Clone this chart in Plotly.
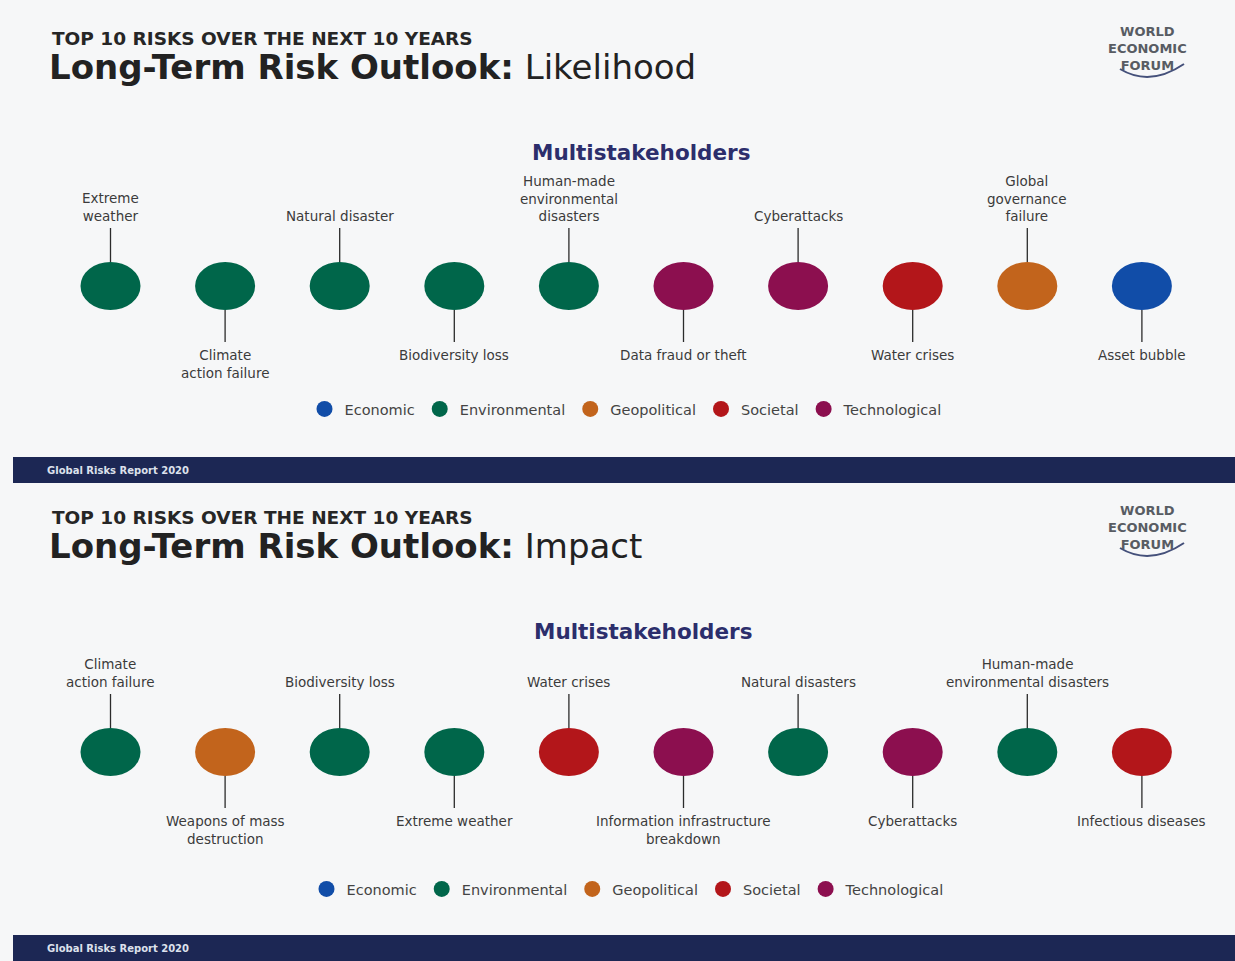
import plotly.graph_objects as go

# ---------------- data ----------------
categories = ["Economic", "Environmental", "Geopolitical", "Societal", "Technological"]
category_colors = ["#114da8", "#00664a", "#c2641c", "#b3161a", "#8c0f4f"]

ranks = [1, 2, 3, 4, 5, 6, 7, 8, 9, 10]

likelihood_risks = ["Extreme<br>weather", "Climate<br>action failure", "Natural disaster",
                    "Biodiversity loss", "Human-made<br>environmental<br>disasters",
                    "Data fraud or theft", "Cyberattacks", "Water crises",
                    "Global<br>governance<br>failure", "Asset bubble"]
likelihood_categories = ["Environmental", "Environmental", "Environmental", "Environmental",
                         "Environmental", "Technological", "Technological", "Societal",
                         "Geopolitical", "Economic"]

impact_risks = ["Climate<br>action failure", "Weapons of mass<br>destruction", "Biodiversity loss",
                "Extreme weather", "Water crises", "Information infrastructure<br>breakdown",
                "Natural disasters", "Cyberattacks", "Human-made<br>environmental disasters",
                "Infectious diseases"]
impact_categories = ["Environmental", "Geopolitical", "Environmental", "Environmental",
                     "Societal", "Technological", "Environmental", "Technological",
                     "Environmental", "Societal"]

panels = [
    dict(kind="Likelihood", risks=likelihood_risks, cats=likelihood_categories,
         top=0, legend="legend"),
    dict(kind="Impact", risks=impact_risks, cats=impact_categories,
         top=479, legend="legend2"),
]

# ---------------- styling / layout constants ----------------
W, H = 1235, 961
FONT = "DejaVu Sans"
TXT = "#3b3b3b"
color_of = dict(zip(categories, category_colors))
px_per_rank = 114.6
first_px = 110.5
x_range = [1 - first_px / px_per_rank, 1 + (W - first_px) / px_per_rank]
half_w = 30 / px_per_rank   # ellipse half width in rank units

fig = go.Figure()
shapes = []
annotations = []

for p in panels:
    t = p["top"]
    row_y = 286 if t == 0 else 752
    # dots (data traces, drawn under ellipse shapes)
    for cat in categories:
        xs = [r for r, c in zip(ranks, p["cats"]) if c == cat]
        names = [n.replace("<br>", " ") for n, c in zip(p["risks"], p["cats"]) if c == cat]
        fig.add_trace(go.Scatter(
            x=xs if xs else [None], y=[row_y] * len(xs) if xs else [None],
            mode="markers", name=cat,
            marker=dict(color=color_of[cat], size=16),
            text=names if names else [""],
            hovertemplate="%{text}<extra>" + cat + "</extra>",
            legend=p["legend"], xaxis="x", yaxis="y"))
    for r, name, cat in zip(ranks, p["risks"], p["cats"]):
        col = color_of[cat]
        shapes.append(dict(type="circle", xref="x", yref="y", layer="above",
                           x0=r - half_w, x1=r + half_w, y0=row_y - 24, y1=row_y + 24,
                           fillcolor=col, line=dict(width=0)))
        above = (r % 2 == 1)
        if above:
            shapes.append(dict(type="line", xref="x", yref="y", x0=r, x1=r,
                               y0=row_y - 58, y1=row_y - 24,
                               line=dict(color="#2b2b2b", width=1.3)))
            annotations.append(dict(x=r, y=row_y - 60, xref="x", yref="y", text=name,
                                    showarrow=False, xanchor="center", yanchor="bottom",
                                    font=dict(family=FONT, size=13.5, color=TXT)))
        else:
            shapes.append(dict(type="line", xref="x", yref="y", x0=r, x1=r,
                               y0=row_y + 24, y1=row_y + 56,
                               line=dict(color="#2b2b2b", width=1.3)))
            annotations.append(dict(x=r, y=row_y + 59, xref="x", yref="y", text=name,
                                    showarrow=False, xanchor="center", yanchor="top",
                                    font=dict(family=FONT, size=13.5, color=TXT)))

    # headings
    annotations.append(dict(x=50, y=38 + t, xref="x2", yref="y", xanchor="left", yanchor="middle",
                            text="<b>TOP 10 RISKS OVER THE NEXT 10 YEARS</b>", showarrow=False,
                            font=dict(family=FONT, size=18.5, color="#262626")))
    annotations.append(dict(x=47, y=67 + t, xref="x2", yref="y", xanchor="left", yanchor="middle",
                            text="<b>Long-Term Risk Outlook:</b> " + p["kind"], showarrow=False,
                            font=dict(family=FONT, size=34, color="#222222")))
    annotations.append(dict(x=641 + (2 if t else 0), y=152 + t, xref="x2", yref="y",
                            xanchor="center", yanchor="middle",
                            text="<b>Multistakeholders</b>", showarrow=False,
                            font=dict(family=FONT, size=21.5, color="#2c2e6c")))
    # logo
    annotations.append(dict(x=1147, y=48 + t, xref="x2", yref="y", xanchor="center",
                            yanchor="middle", text="<b>WORLD<br>ECONOMIC<br>FORUM</b>",
                            showarrow=False,
                            font=dict(family=FONT, size=13, color="#585c63")))
    shapes.append(dict(type="path", xref="x2", yref="y",
                       path=f"M 1120 {69 + t} Q 1150 {87 + t} 1184 {64 + t}",
                       line=dict(color="#44507a", width=2)))
    # footer
    bar_top = 457 if t == 0 else 935
    shapes.append(dict(type="rect", xref="x2", yref="y", x0=13, x1=W, y0=bar_top, y1=bar_top + 26,
                       fillcolor="#1c2754", line=dict(width=0), layer="below"))
    annotations.append(dict(x=45, y=bar_top + 13, xref="x2", yref="y", xanchor="left",
                            yanchor="middle", text="<b>Global Risks Report 2020</b>", showarrow=False,
                            font=dict(family=FONT, size=10, color="#dde1ec")))

legend_common = dict(orientation="h", xanchor="center", yanchor="middle",
                     bgcolor="rgba(0,0,0,0)", itemsizing="trace", traceorder="normal",
                     font=dict(family=FONT, size=14.5, color="#444444"), itemclick=False)

fig.update_layout(
    width=W, height=H, margin=dict(l=0, r=0, t=0, b=0),
    paper_bgcolor="#f6f7f8", plot_bgcolor="#f6f7f8",
    showlegend=True,
    legend=dict(x=626 / W, y=1 - 409 / H, **legend_common),
    legend2=dict(x=628 / W, y=1 - 889 / H, **legend_common),
    xaxis=dict(range=x_range, visible=False, fixedrange=True),
    xaxis2=dict(range=[0, W], visible=False, overlaying="x", fixedrange=True),
    yaxis=dict(range=[H, 0], visible=False, fixedrange=True),
    shapes=shapes, annotations=annotations,
)

fig.write_html("out.html", config={"displayModeBar": False},
               post_script="document.body.style.margin='0px';")
